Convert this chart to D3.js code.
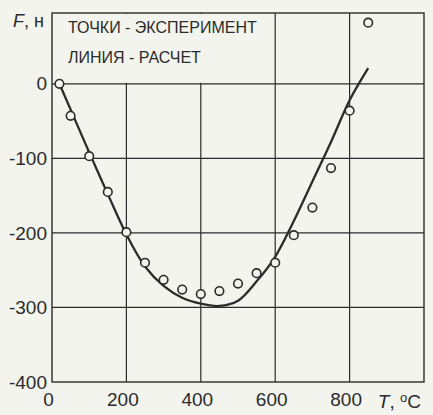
<!DOCTYPE html>
<html>
<head>
<meta charset="utf-8">
<script src="https://cdn.jsdelivr.net/npm/d3@7"></script>
<style>
  body { margin: 0; background: #f3f4ee; }
  svg { display: block; font-family: "Liberation Sans", Arial, sans-serif; }
</style>
</head>
<body>
<div id="chart"></div>
<script>
// experiment points (T, °C ; F, н)
const expT = [20, 50, 100, 150, 200, 250, 300, 350, 400, 450, 500, 550, 600, 650, 700, 750, 800, 850];
const expF = [0, -43, -97, -145, -199, -240, -263, -276, -282, -278, -268, -254, -240, -203, -166, -113, -36, 82];

// calculated curve
const calcT = [20, 100, 150, 200, 250, 300, 350, 400, 450, 500, 550, 600, 650, 700, 750, 800, 850];
const calcF = [0, -92, -148, -202, -245, -271, -287, -295, -298, -291, -265, -232, -184, -131, -78, -22, 21];

const xTicks = [0, 200, 400, 600, 800];
const yTicks = [0, -100, -200, -300, -400];
const xGrid = [200, 400, 600, 800];
const yGrid = [0, -100, -200, -300];

const legendLines = ["ТОЧКИ - ЭКСПЕРИМЕНТ", "ЛИНИЯ - РАСЧЕТ"];

const ink = "#2b2b2b";
const paper = "#f3f4ee";

const margin = { top: 13, right: 9, bottom: 33, left: 52 },
      width = 433 - margin.left - margin.right,
      height = 415 - margin.top - margin.bottom;

const svg = d3.select("#chart")
    .append("svg")
    .attr("width", width + margin.left + margin.right)
    .attr("height", height + margin.top + margin.bottom)
    .style("background", paper)
    .append("g")
    .attr("transform", `translate(${margin.left},${margin.top})`);

const x = d3.scaleLinear().domain([0, 1000]).range([0, width]);
const y = d3.scaleLinear().domain([-400, 95]).range([height, 0]);

// grid
svg.selectAll(".vgrid")
    .data(xGrid)
    .join("line")
    .attr("x1", d => x(d)).attr("x2", d => x(d))
    .attr("y1", 0).attr("y2", height)
    .attr("stroke", ink).attr("stroke-width", 1.2);

svg.selectAll(".hgrid")
    .data(yGrid)
    .join("line")
    .attr("x1", 0).attr("x2", width)
    .attr("y1", d => y(d)).attr("y2", d => y(d))
    .attr("stroke", ink).attr("stroke-width", 1.2);

// legend box hides the grid above zero
svg.append("rect")
    .attr("x", 1)
    .attr("y", 1)
    .attr("width", x(590) - 1)
    .attr("height", y(0) - 2)
    .attr("fill", paper);

svg.selectAll(".legend")
    .data(legendLines)
    .join("text")
    .attr("x", 16)
    .attr("y", (d, i) => 20 + i * 30)
    .attr("fill", ink)
    .style("font-size", "16px")
    .text(d => d);

// frame
svg.append("rect")
    .attr("width", width)
    .attr("height", height)
    .attr("fill", "none")
    .attr("stroke", ink)
    .attr("stroke-width", 1.4);

// axes (labels only), plain hyphen for negatives like the original
const xAxis = svg.append("g")
    .attr("transform", `translate(0,${height})`)
    .call(d3.axisBottom(x).tickValues(xTicks).tickSize(0).tickPadding(11)
        .tickFormat(d => String(d)));
xAxis.select(".domain").remove();
xAxis.selectAll("text")
    .attr("dx", -4)
    .attr("fill", ink)
    .style("font-size", "19px");

const yAxis = svg.append("g")
    .call(d3.axisLeft(y).tickValues(yTicks).tickSize(0).tickPadding(5)
        .tickFormat(d => String(d)));
yAxis.select(".domain").remove();
yAxis.selectAll("text")
    .attr("fill", ink)
    .style("font-size", "19px");

// calculated line
const calc = calcT.map((t, i) => ({ t, f: calcF[i] }));
svg.append("path")
    .datum(calc)
    .attr("fill", "none")
    .attr("stroke", ink)
    .attr("stroke-width", 2.3)
    .attr("d", d3.line()
        .x(d => x(d.t))
        .y(d => y(d.f))
        .curve(d3.curveCatmullRom));

// experiment points
const exp = expT.map((t, i) => ({ t, f: expF[i] }));
svg.selectAll(".pt")
    .data(exp)
    .join("circle")
    .attr("cx", d => x(d.t))
    .attr("cy", d => y(d.f))
    .attr("r", 4.3)
    .attr("fill", paper)
    .attr("stroke", ink)
    .attr("stroke-width", 1.6);

// axis titles
const fLabel = svg.append("text")
    .attr("x", -39)
    .attr("y", 14)
    .attr("fill", ink)
    .style("font-size", "18px");
fLabel.append("tspan").style("font-style", "italic").text("F");
fLabel.append("tspan").text(", н");

const tLabel = svg.append("text")
    .attr("x", x(876))
    .attr("y", height + 26)
    .attr("fill", ink)
    .style("font-size", "19px");
tLabel.append("tspan").style("font-style", "italic").text("T");
tLabel.append("tspan").text(", ");
tLabel.append("tspan").attr("dy", -6).style("font-size", "13px").text("o");
tLabel.append("tspan").attr("dy", 6).text("C");
</script>
</body>
</html>
